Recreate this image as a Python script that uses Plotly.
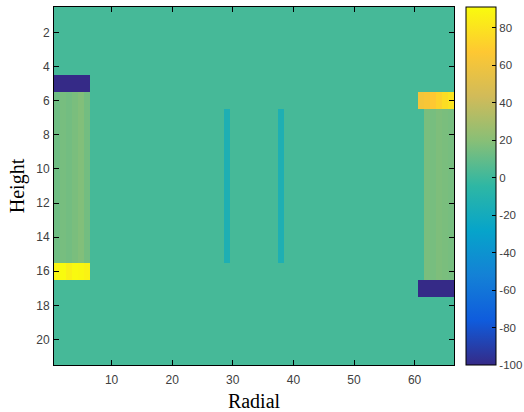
import plotly.graph_objects as go

# ---- data ----
n_rows = 21
n_cols = 66
background = 2

# left electrode block (columns 1-6)
left_cols = [1, 2, 3, 4, 5, 6]
left_top_row = 5
left_top_vals = [-100, -100, -100, -100, -100, -100]
left_mid_rows = list(range(6, 16))
left_mid_vals = [13, 15, 14, 16, 18, 14]
left_bot_row = 16
left_bot_vals = [88, 91, 86, 90, 89, 87]

# right electrode block (columns 61-66)
right_cols = [61, 62, 63, 64, 65, 66]
right_top_row = 6
right_top_vals = [62, 64, 67, 72, 77, 80]
right_mid_cols = [62, 63, 64, 65, 66]
right_mid_rows = list(range(7, 17))
right_mid_vals = [16, 15, 17, 16, 15]
right_bot_row = 17
right_bot_vals = [-100, -100, -100, -100, -100, -100]

# thin vertical strips
strip_cols = [29, 38]
strip_rows = list(range(7, 16))
strip_vals = [-14, -14]

x_ticks = [10, 20, 30, 40, 50, 60]
y_ticks = [2, 4, 6, 8, 10, 12, 14, 16, 18, 20]
cbar_ticks = [80, 60, 40, 20, 0, -20, -40, -60, -80, -100]
z_min, z_max = -100, 91

# ---- build matrix ----
z = [[background] * n_cols for _ in range(n_rows)]
def put(r, c, v):
    z[r - 1][c - 1] = v
for c, v in zip(left_cols, left_top_vals):
    put(left_top_row, c, v)
for r in left_mid_rows:
    for c, v in zip(left_cols, left_mid_vals):
        put(r, c, v)
for c, v in zip(left_cols, left_bot_vals):
    put(left_bot_row, c, v)
for c, v in zip(right_cols, right_top_vals):
    put(right_top_row, c, v)
for r in right_mid_rows:
    for c, v in zip(right_mid_cols, right_mid_vals):
        put(r, c, v)
for c, v in zip(right_cols, right_bot_vals):
    put(right_bot_row, c, v)
for r in strip_rows:
    for c, v in zip(strip_cols, strip_vals):
        put(r, c, v)

parula = [[0.0, '#352a87'], [0.125, '#0f5cdd'], [0.25, '#1481d6'],
          [0.375, '#06a4ca'], [0.5, '#2eb7a4'], [0.625, '#87bf77'],
          [0.75, '#d1bb59'], [0.875, '#fec832'], [1.0, '#f9fb0e']]

fig = go.Figure(go.Heatmap(
    z=z,
    x=list(range(1, n_cols + 1)),
    y=list(range(1, n_rows + 1)),
    colorscale=parula,
    zmin=z_min, zmax=z_max,
    hoverinfo='skip',
    colorbar=dict(
        x=1.03, xanchor='left', xpad=0, ypad=0,
        y=0.5, yanchor='middle', len=1, lenmode='fraction',
        thickness=30, thicknessmode='pixels',
        outlinecolor='black', outlinewidth=1,
        ticks='inside', ticklen=4, tickcolor='black',
        tickvals=cbar_ticks, ticktext=[str(t) for t in cbar_ticks],
        tickfont=dict(family='Liberation Sans, Arial', size=11.5, color='#404040'),
    ),
))

axis_common = dict(
    showline=True, linecolor='black', linewidth=1, mirror='ticks',
    ticks='inside', ticklen=5, tickcolor='black',
    showgrid=False, zeroline=False, automargin=False,
    tickfont=dict(family='Liberation Sans, Arial', size=12, color='#404040'),
)

fig.update_xaxes(range=[0.5, 66.5], tickvals=x_ticks, ticklabelstandoff=4,
                 title=dict(text='Radial', font=dict(family='Liberation Serif, Times New Roman', size=20, color='black'), standoff=7),
                 **axis_common)
fig.update_yaxes(range=[21.5, 0.5], tickvals=y_ticks, ticklabelstandoff=1,
                 title=dict(text='Height', font=dict(family='Liberation Serif, Times New Roman', size=20, color='black'), standoff=6),
                 **axis_common)

fig.update_layout(
    width=524, height=412,
    margin=dict(l=54, r=70, t=7, b=47, autoexpand=False),
    paper_bgcolor='white', plot_bgcolor='white',
)

fig.write_html("out.html", config={'displayModeBar': False, 'staticPlot': True},
               post_script="document.body.style.margin='0px';document.body.style.overflow='hidden';")
